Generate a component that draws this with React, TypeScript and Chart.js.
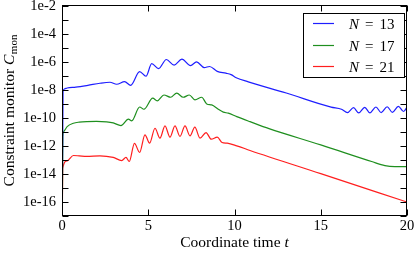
import React, { useEffect, useRef } from 'react';
import { Chart, registerables } from 'chart.js';

Chart.register(...registerables);

// Legend resolutions
const resolutions = [13, 17, 21];
const lineColors = ['#1e1eff', '#1f8f1f', '#ff1e1e'];

// N = 13
const timeN13 = [0, 0.06, 0.15, 0.3, 0.8, 1.5, 2.2, 2.78, 3.17, 3.63, 3.98, 4.5, 4.87, 5.2, 5.6, 6.05, 6.5, 6.95, 7.45, 7.8, 8.25, 8.55, 9.0, 9.5, 9.8, 10.1, 10.8, 13.0, 15.6, 16.2, 16.55, 16.9, 17.2, 17.55, 17.85, 18.2, 18.5, 18.85, 19.15, 19.5, 19.8, 20];
const cmonN13 = [1e-20, 7.9e-9, 1.26e-8, 1.45e-8, 1.66e-8, 2.24e-8, 3.16e-8, 3.72e-8, 2.69e-8, 4.07e-8, 2.24e-8, 2.14e-7, 1.0e-7, 7.94e-7, 3.55e-7, 1.58e-6, 6.31e-7, 1.66e-6, 5.75e-7, 1.07e-6, 4.17e-7, 5.01e-7, 2.24e-7, 1.66e-7, 1.32e-7, 7.94e-8, 3.98e-8, 6.31e-9, 6.17e-10, 4.37e-10, 2.51e-10, 5.62e-10, 2.4e-10, 6.03e-10, 2.4e-10, 6.31e-10, 2.51e-10, 6.61e-10, 2.63e-10, 7.08e-10, 3.02e-10, 6.31e-10];

// N = 17
const timeN17 = [0, 0.05, 0.1, 0.3, 0.66, 1.0, 1.43, 2.0, 2.59, 2.97, 3.42, 3.85, 4.04, 4.5, 4.75, 5.26, 5.52, 5.91, 6.3, 6.65, 7.03, 7.38, 7.71, 8.1, 8.39, 8.68, 9.06, 9.35, 9.64, 10.13, 10.9, 12.0, 15.0, 17.95, 18.72, 19.3, 20];
const cmonN17 = [1e-20, 5.01e-12, 1.1e-11, 2.51e-11, 4.37e-11, 5.25e-11, 5.75e-11, 5.89e-11, 5.5e-11, 4.57e-11, 2.95e-11, 8.51e-11, 6.46e-11, 6.31e-10, 4.37e-10, 2.69e-9, 1.74e-9, 4.57e-9, 3.16e-9, 6.17e-9, 3.16e-9, 4.57e-9, 2.04e-9, 3.16e-9, 1.05e-9, 8.91e-10, 4.37e-10, 2.69e-10, 2.29e-10, 1.29e-10, 5.62e-11, 1.78e-11, 1.23e-12, 7.94e-14, 4.07e-14, 3.47e-14, 3.47e-14];

// N = 21
const timeN21 = [0, 0.04, 0.3, 0.66, 1.0, 1.43, 2.2, 2.97, 3.46, 3.71, 3.9, 4.2, 4.5, 4.81, 5.08, 5.39, 5.68, 5.97, 6.26, 6.55, 6.84, 7.13, 7.42, 7.7, 8.0, 8.35, 8.65, 9.0, 9.28, 9.58, 10.13, 10.9, 15.0, 20];
const cmonN21 = [1e-20, 2.69e-14, 8.91e-14, 2.14e-13, 2.0e-13, 1.82e-13, 2.04e-13, 1.55e-13, 9.33e-14, 1.55e-13, 7.94e-14, 1.58e-12, 3.55e-13, 6.46e-12, 1.62e-12, 1.91e-11, 3.72e-12, 2.82e-11, 4.37e-12, 2.82e-11, 4.9e-12, 2.82e-11, 5.5e-12, 2.29e-11, 3.72e-12, 9.33e-12, 3.16e-12, 4.37e-12, 1.82e-12, 1.62e-12, 1.05e-12, 4.9e-13, 1.07e-14, 1.0e-16];

// Axes
const xTicks = [0, 5, 10, 15, 20];
const yTicks = [1e-17, 1e-16, 1e-15, 1e-14, 1e-13, 1e-12, 1e-11, 1e-10, 1e-9, 1e-8, 1e-7, 1e-6, 1e-5, 1e-4, 1e-3, 1e-2];
const yTickLabels = ['', '1e-16', '', '1e-14', '', '1e-12', '', '1e-10', '', '1e-8', '', '1e-6', '', '1e-4', '', '1e-2'];
const yMin = 1e-17;
const yMax = 1.26e-2;

const SERIF = '"Liberation Serif", "Times New Roman", serif';

const series = [
  { t: timeN13, c: cmonN13 },
  { t: timeN17, c: cmonN17 },
  { t: timeN21, c: cmonN21 },
];

const decorPlugin = {
  id: 'decor',
  afterDraw(chart: any) {
    const { ctx, chartArea: a, scales } = chart;
    const xs = scales.x;
    const ys = scales.y;
    const L = Math.round(a.left) + 0.5;
    const R = Math.round(a.right) - 0.5;
    const T = Math.round(a.top) + 0.5;
    const B = Math.round(a.bottom) - 0.5;
    ctx.save();
    ctx.strokeStyle = '#000';
    ctx.lineWidth = 1;
    // inward ticks
    const tl = 6;
    ctx.beginPath();
    yTicks.forEach((v) => {
      const py = Math.round(ys.getPixelForValue(v)) + 0.5;
      ctx.moveTo(L, py); ctx.lineTo(L + tl, py);
      ctx.moveTo(R, py); ctx.lineTo(R - tl, py);
    });
    xTicks.forEach((v) => {
      const px = Math.round(xs.getPixelForValue(v)) + 0.5;
      ctx.moveTo(px, B); ctx.lineTo(px, B - tl);
      ctx.moveTo(px, T); ctx.lineTo(px, T + tl);
    });
    ctx.stroke();
    ctx.strokeRect(L, T, R - L, B - T);

    // legend
    const lx = 303.5, ly = 13.5, lw = 101, lh = 64;
    ctx.fillStyle = '#fff';
    ctx.fillRect(lx, ly, lw, lh);
    ctx.strokeRect(lx, ly, lw, lh);
    const rows = [23.5, 45.5, 66.5];
    chart.data.datasets.forEach((ds: any, i: number) => {
      const ry = rows[i];
      ctx.strokeStyle = ds.borderColor;
      ctx.lineWidth = 1.2;
      ctx.beginPath();
      ctx.moveTo(313, ry); ctx.lineTo(334, ry);
      ctx.stroke();
      ctx.fillStyle = '#000';
      ctx.textBaseline = 'alphabetic';
      ctx.textAlign = 'left';
      ctx.font = 'italic 15px ' + SERIF;
      ctx.fillText('N', 349, ry + 5.5);
      ctx.font = '15px ' + SERIF;
      ctx.fillText('=', 365, ry + 5.5);
      ctx.textAlign = 'right';
      ctx.fillText(String(resolutions[i]), 394.5, ry + 5.5);
    });

    // x title
    ctx.fillStyle = '#000';
    ctx.textAlign = 'left';
    ctx.textBaseline = 'alphabetic';
    const xt1 = 'Coordinate time ';
    ctx.font = '15.5px ' + SERIF;
    const w1 = ctx.measureText(xt1).width;
    ctx.font = 'italic 15.5px ' + SERIF;
    const w2 = ctx.measureText('t').width;
    const cx = (a.left + a.right) / 2;
    let sx = cx - (w1 + w2) / 2;
    ctx.font = '15.5px ' + SERIF;
    ctx.fillText(xt1, sx, 247);
    ctx.font = 'italic 15.5px ' + SERIF;
    ctx.fillText('t', sx + w1, 247);

    // y title (rotated)
    const yt1 = 'Constraint monitor ';
    ctx.font = '15.5px ' + SERIF;
    const v1 = ctx.measureText(yt1).width;
    ctx.font = 'italic 15.5px ' + SERIF;
    const v2 = ctx.measureText('C').width;
    ctx.font = '11px ' + SERIF;
    const v3 = ctx.measureText('mon').width;
    const total = v1 + v2 + v3 + 0.5;
    const cy = (a.top + a.bottom) / 2;
    ctx.translate(13.5, cy);
    ctx.rotate(-Math.PI / 2);
    let p = -total / 2;
    ctx.font = '15.5px ' + SERIF;
    ctx.fillText(yt1, p, 0);
    p += v1;
    ctx.font = 'italic 15.5px ' + SERIF;
    ctx.fillText('C', p, 0);
    p += v2 + 0.5;
    ctx.font = '11px ' + SERIF;
    ctx.fillText('mon', p, 3);
    ctx.restore();
  },
};

export default function App() {
  const ref = useRef<HTMLCanvasElement | null>(null);
  useEffect(() => {
    if (!ref.current) return;
    const chart = new Chart(ref.current, {
      type: 'line',
      data: {
        datasets: series.map((s, i) => ({
          label: `N = ${resolutions[i]}`,
          data: s.t.map((t, k) => ({ x: t, y: s.c[k] })),
          borderColor: lineColors[i],
          borderWidth: 1.2,
          pointRadius: 0,
          fill: false,
          cubicInterpolationMode: 'monotone' as const,
        })),
      },
      options: {
        animation: false,
        responsive: false,
        events: [],
        layout: { padding: { left: 0, top: 5, right: 8, bottom: 0 } },
        plugins: { legend: { display: false }, tooltip: { enabled: false } },
        scales: {
          x: {
            type: 'linear',
            min: 0,
            max: 20,
            grid: { display: false, drawTicks: false },
            border: { display: false },
            afterBuildTicks: (scale: any) => {
              scale.ticks = xTicks.map((v) => ({ value: v }));
            },
            afterFit: (scale: any) => {
              scale.height = 38;
              scale.paddingLeft = 0;
              scale.paddingRight = 0;
            },
            ticks: {
              autoSkip: false,
              maxRotation: 0,
              padding: 1,
              color: '#000',
              font: { family: SERIF, size: 14.5 },
              callback: (v: any) => String(v),
            },
          },
          y: {
            type: 'logarithmic',
            min: yMin,
            max: yMax,
            grid: { display: false, drawTicks: false },
            border: { display: false },
            afterBuildTicks: (scale: any) => {
              scale.ticks = yTicks.map((v) => ({ value: v }));
            },
            afterFit: (scale: any) => {
              scale.width = 62;
              scale.paddingTop = 0;
              scale.paddingBottom = 0;
            },
            ticks: {
              autoSkip: false,
              padding: 6,
              color: '#000',
              font: { family: SERIF, size: 14.5 },
              callback: (_v: any, idx: number) => yTickLabels[idx],
            },
          },
        },
      },
      plugins: [decorPlugin],
    });
    return () => chart.destroy();
  }, []);
  return (
    <div style={{ position: 'absolute', left: 0, top: 0, width: 415, height: 254, background: '#fff' }}>
      <canvas ref={ref} width={415} height={254} style={{ display: 'block' }} />
    </div>
  );
}
